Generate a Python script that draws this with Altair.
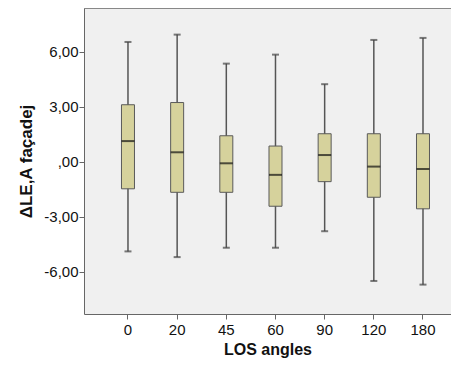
import altair as alt
import pandas as pd

angles = ["0", "20", "45", "60", "90", "120", "180"]
whisk_hi = [6.52, 6.92, 5.34, 5.83, 4.22, 6.63, 6.74]
q3 = [3.10, 3.22, 1.41, 0.85, 1.52, 1.52, 1.52]
med = [1.12, 0.51, -0.09, -0.72, 0.36, -0.27, -0.40]
q1 = [-1.48, -1.67, -1.67, -2.43, -1.09, -1.94, -2.57]
whisk_lo = [-4.89, -5.20, -4.69, -4.69, -3.79, -6.50, -6.70]
y_ticks = [-6, -3, 0, 3, 6]

df = pd.DataFrame({"angle": angles, "hi": whisk_hi, "q3": q3, "med": med,
                   "q1": q1, "lo": whisk_lo})

FONT = "Liberation Sans"
xs = alt.Scale(domain=angles, paddingInner=0, paddingOuter=0.232, align=0.85)
ys = alt.Scale(domain=[-8.3, 8.37], nice=False, zero=False)

xenc = alt.X("angle:N", sort=angles, scale=xs,
             axis=alt.Axis(title="LOS angles", labelAngle=0, labelFontSize=15,
                           labelFont=FONT, labelColor="#111", titleFont=FONT,
                           titleFontSize=16, titleFontWeight="bold", titleColor="#111",
                           tickSize=5, labelPadding=3, titlePadding=4,
                           domainColor="#666", tickColor="#666"))
yaxis = alt.Axis(title="ΔLE,A façadej", values=y_ticks, grid=False,
                 labelExpr="datum.value == 0 ? ',00' : (datum.value < 0 ? '-' : '') + abs(datum.value) + ',00'",
                 labelFontSize=15, labelFont=FONT, labelColor="#111", titleFont=FONT,
                 titleFontSize=17, titleFontWeight="bold", titleColor="#111",
                 tickSize=5, labelPadding=1, titlePadding=8,
                 domainColor="#666", tickColor="#666")

base = alt.Chart(df)
whisk = base.mark_rule(color="#555", strokeWidth=1.5).encode(
    x=xenc, y=alt.Y("lo:Q", scale=ys, axis=yaxis), y2="hi:Q")
box = base.mark_bar(size=13, fill="#d6d29c", stroke="#5a5a5a", strokeWidth=1).encode(
    x=alt.X("angle:N", sort=angles), y="q1:Q", y2="q3:Q")
median = base.mark_tick(size=13, thickness=2, color="#111").encode(
    x=alt.X("angle:N", sort=angles), y="med:Q")
cap_hi = base.mark_tick(size=7, thickness=2, color="#444").encode(
    x=alt.X("angle:N", sort=angles), y="hi:Q")
cap_lo = base.mark_tick(size=7, thickness=2, color="#444").encode(
    x=alt.X("angle:N", sort=angles), y="lo:Q")
top_border = alt.Chart(pd.DataFrame({"a": [0]})).mark_rule(color="#888", strokeWidth=2).encode(
    x=alt.value(0), x2=alt.value(367), y=alt.value(0))

chart = alt.layer(whisk, box, median, cap_hi, cap_lo, top_border).properties(
    width=367, height=306,
    autosize=alt.AutoSizeParams(type="none"),
    padding={"left": 76, "top": 0, "right": 0, "bottom": 45},
    background="white",
).configure_view(stroke=None, fill="#f0f0f0")

chart.save("out.html", embed_options={"renderer": "svg", "actions": False})
